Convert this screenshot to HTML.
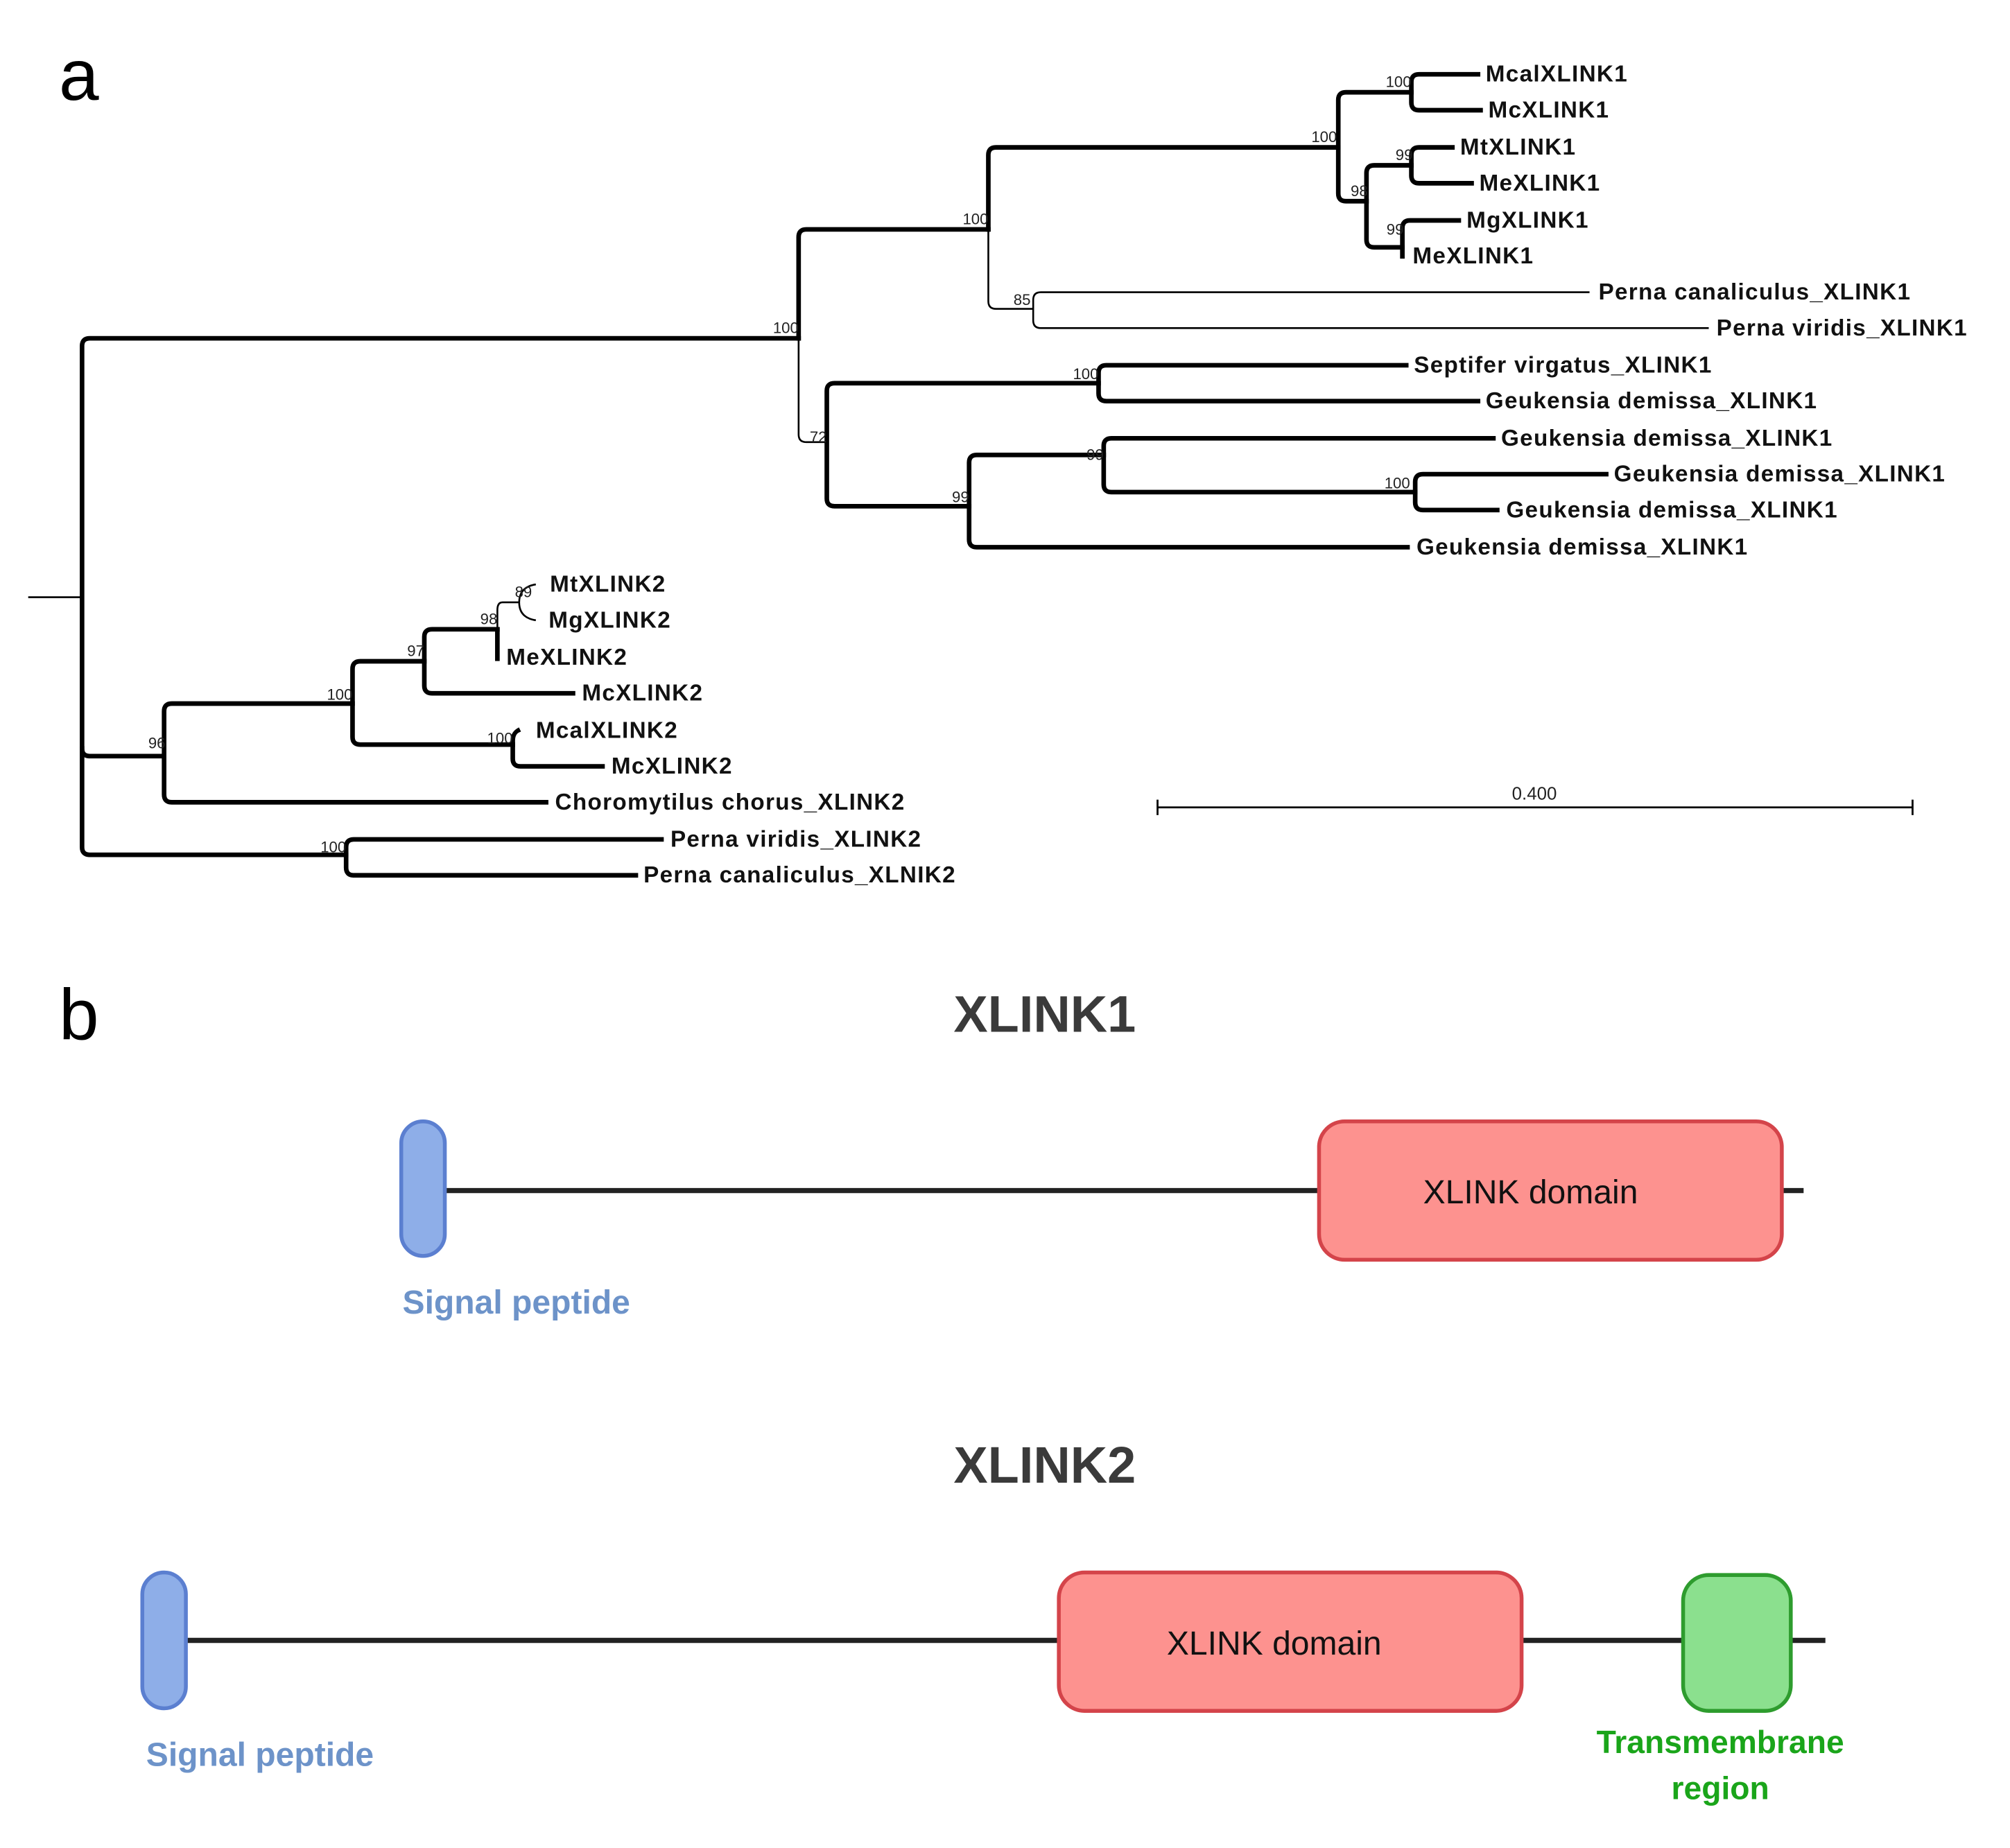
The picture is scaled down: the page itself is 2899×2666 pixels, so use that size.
<!DOCTYPE html>
<html><head><meta charset="utf-8"><style>
html,body{margin:0;padding:0;background:#fff;}
svg{display:block;}
.t{fill:none;stroke:#000;stroke-width:3.6;stroke-linecap:square;}
.n{fill:none;stroke:#000;stroke-width:1.4;}
.l{font-family:"Liberation Sans",sans-serif;font-weight:bold;font-size:18px;letter-spacing:0.7px;fill:#111;dominant-baseline:central;}
.b{font-family:"Liberation Sans",sans-serif;font-size:12px;fill:#222;text-anchor:end;}
</style></head><body>
<svg width="2899" height="2666" viewBox="0 0 1568 1442" xmlns="http://www.w3.org/2000/svg">
<text x="46" y="78" font-family="Liberation Sans,sans-serif" font-size="56" fill="#000">a</text>
<text x="46" y="811" font-family="Liberation Sans,sans-serif" font-size="56" fill="#000">b</text>
<!-- tree -->
<path class="n" d="M22,466 H64"/>
<path class="t" d="M623,264 H70 Q64,264 64,270 V661 Q64,667 70,667 H270"/>
<path class="t" d="M64,584 Q64,590 70,590 H128"/>
<path class="t" d="M771,179 H629 Q623,179 623,185 V264"/>
<path class="n" d="M623,264 V339 Q623,345 629,345 H645"/>
<path class="t" d="M1044,115 H777 Q771,115 771,121 V179"/>
<path class="n" d="M771,179 V235 Q771,241 777,241 H806"/>
<path class="t" d="M1101,72 H1050 Q1044,72 1044,78 V151 Q1044,157 1050,157 H1066"/>
<path class="t" d="M1153,58 H1107 Q1101,58 1101,64 V80 Q1101,86 1107,86 H1155"/>
<path class="t" d="M1101,129 H1072 Q1066,129 1066,135 V187 Q1066,193 1072,193 H1094"/>
<path class="t" d="M1133,115 H1107 Q1101,115 1101,121 V137 Q1101,143 1107,143 H1148"/>
<path class="t" d="M1138,172 H1100 Q1094,172 1094,178 V200"/>
<path class="n" d="M1240,228 H812 Q806,228 806,234 V250 Q806,256 812,256 H1333"/>
<path class="t" d="M857,299 H651 Q645,299 645,305 V389 Q645,395 651,395 H756"/>
<path class="t" d="M1097,285 H863 Q857,285 857,291 V307 Q857,313 863,313 H1153"/>
<path class="t" d="M861,355 H762 Q756,355 756,361 V421 Q756,427 762,427 H1098"/>
<path class="t" d="M1165,342 H867 Q861,342 861,348 V378 Q861,384 867,384 H1104"/>
<path class="t" d="M1253,370 H1110 Q1104,370 1104,376 V392 Q1104,398 1110,398 H1168"/>
<path class="t" d="M275,549 H134 Q128,549 128,555 V620 Q128,626 134,626 H426"/>
<path class="t" d="M331,516 H281 Q275,516 275,522 V575 Q275,581 281,581 H400"/>
<path class="t" d="M388,491 H337 Q331,491 331,497 V535 Q331,541 337,541 H447"/>
<path class="n" d="M405,470 H392 Q388,470 388,476 V491"/>
<path class="t" d="M388,491 V514"/>
<path class="n" d="M418,456 Q405,458 405,470 Q405,482 418,484"/>
<path class="t" d="M404,570 Q400,572 400,578 V592 Q400,598 406,598 H470"/>
<path class="t" d="M516,655 H276 Q270,655 270,661 V677 Q270,683 276,683 H496"/>
<!-- leaf labels -->
<text class="l" x="1159" y="58">McalXLINK1</text>
<text class="l" x="1161" y="86">McXLINK1</text>
<text class="l" x="1139" y="115">MtXLINK1</text>
<text class="l" x="1154" y="143">MeXLINK1</text>
<text class="l" x="1144" y="172">MgXLINK1</text>
<text class="l" x="1102" y="200">MeXLINK1</text>
<text class="l" x="1247" y="228">Perna canaliculus_XLINK1</text>
<text class="l" x="1339" y="256">Perna viridis_XLINK1</text>
<text class="l" x="1103" y="285">Septifer virgatus_XLINK1</text>
<text class="l" x="1159" y="313">Geukensia demissa_XLINK1</text>
<text class="l" x="1171" y="342">Geukensia demissa_XLINK1</text>
<text class="l" x="1259" y="370">Geukensia demissa_XLINK1</text>
<text class="l" x="1175" y="398">Geukensia demissa_XLINK1</text>
<text class="l" x="1105" y="427">Geukensia demissa_XLINK1</text>
<text class="l" x="429" y="456">MtXLINK2</text>
<text class="l" x="428" y="484">MgXLINK2</text>
<text class="l" x="395" y="513">MeXLINK2</text>
<text class="l" x="454" y="541">McXLINK2</text>
<text class="l" x="418" y="570">McalXLINK2</text>
<text class="l" x="477" y="598">McXLINK2</text>
<text class="l" x="433" y="626">Choromytilus chorus_XLINK2</text>
<text class="l" x="523" y="655">Perna viridis_XLINK2</text>
<text class="l" x="502" y="683">Perna canaliculus_XLNIK2</text>
<!-- bootstrap -->
<text class="b" x="1101" y="68">100</text>
<text class="b" x="1043" y="111">100</text>
<text class="b" x="1102" y="125">99</text>
<text class="b" x="1067" y="153">98</text>
<text class="b" x="1095" y="183">99</text>
<text class="b" x="771" y="175">100</text>
<text class="b" x="623" y="260">100</text>
<text class="b" x="804" y="238">85</text>
<text class="b" x="857" y="296">100</text>
<text class="b" x="645" y="345">72</text>
<text class="b" x="861" y="359">99</text>
<text class="b" x="1100" y="381">100</text>
<text class="b" x="756" y="392">99</text>
<text class="b" x="415" y="466">89</text>
<text class="b" x="388" y="487">98</text>
<text class="b" x="331" y="512">97</text>
<text class="b" x="275" y="546">100</text>
<text class="b" x="400" y="580">100</text>
<text class="b" x="129" y="584">96</text>
<text class="b" x="270" y="665">100</text>
<!-- scale -->
<path d="M903,630 H1492 M903,624 V636 M1492,624 V636" stroke="#000" stroke-width="1.5" fill="none"/>
<text x="1197" y="624" font-family="Liberation Sans,sans-serif" font-size="14" text-anchor="middle" fill="#222">0.400</text>
<!-- part b -->
<text x="815" y="805" font-family="Liberation Sans,sans-serif" font-weight="bold" font-size="40" text-anchor="middle" fill="#3a3a3a">XLINK1</text>
<line x1="330" y1="929" x2="1407" y2="929" stroke="#222" stroke-width="4"/>
<rect x="313" y="875" width="34" height="105" rx="17" fill="#8eaee8" stroke="#5b7fd0" stroke-width="3"/>
<rect x="1029" y="875" width="361" height="108" rx="20" fill="#fd928f" stroke="#d4444a" stroke-width="3"/>
<text x="1194" y="939" font-family="Liberation Sans,sans-serif" font-size="26" text-anchor="middle" fill="#111">XLINK domain</text>
<text x="314" y="1025" font-family="Liberation Sans,sans-serif" font-weight="bold" font-size="26" fill="#6d93c9">Signal peptide</text>

<text x="815" y="1157" font-family="Liberation Sans,sans-serif" font-weight="bold" font-size="40" text-anchor="middle" fill="#3a3a3a">XLINK2</text>
<line x1="128" y1="1280" x2="1424" y2="1280" stroke="#222" stroke-width="4"/>
<rect x="111" y="1227" width="34" height="106" rx="17" fill="#8eaee8" stroke="#5b7fd0" stroke-width="3"/>
<rect x="826" y="1227" width="361" height="108" rx="20" fill="#fd928f" stroke="#d4444a" stroke-width="3"/>
<text x="994" y="1291" font-family="Liberation Sans,sans-serif" font-size="26" text-anchor="middle" fill="#111">XLINK domain</text>
<rect x="1313" y="1229" width="84" height="106" rx="20" fill="#8be08e" stroke="#2e9c2e" stroke-width="3"/>
<text x="114" y="1378" font-family="Liberation Sans,sans-serif" font-weight="bold" font-size="26" fill="#6d93c9">Signal peptide</text>
<text x="1342" y="1368" font-family="Liberation Sans,sans-serif" font-weight="bold" font-size="25" text-anchor="middle" fill="#1aa51a">Transmembrane</text>
<text x="1342" y="1404" font-family="Liberation Sans,sans-serif" font-weight="bold" font-size="25" text-anchor="middle" fill="#1aa51a">region</text>
</svg>
</body></html>
